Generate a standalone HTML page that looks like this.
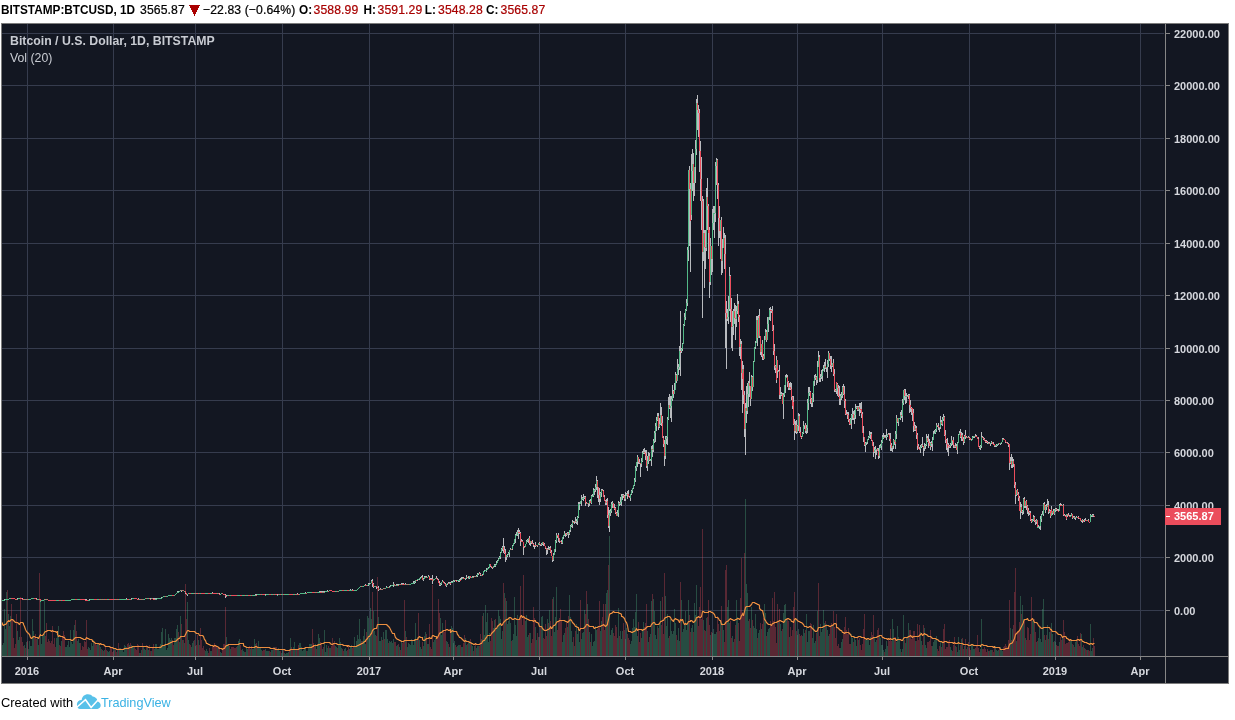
<!DOCTYPE html>
<html lang="en"><head><meta charset="utf-8"><title>BTCUSD chart</title>
<style>
html,body{margin:0;padding:0;background:#fff;}
body{width:1235px;height:720px;position:relative;overflow:hidden;font-family:"Liberation Sans",Arial,sans-serif;}
.h{-webkit-text-stroke:0.22px currentColor;letter-spacing:0.1px;position:absolute;top:2px;transform:scaleY(1.06);transform-origin:0 11.8px;height:16px;line-height:16px;font-size:12.2px;color:#000;white-space:nowrap;}
.h b{font-weight:bold;font-size:11.8px}
.hb{position:absolute;top:2px;transform:scaleY(1.1);transform-origin:0 11.8px;height:16px;line-height:16px;font-size:11.8px;font-weight:bold;color:#000;white-space:nowrap;}
.r{color:#a80000}
.lg{position:absolute;left:10px;white-space:nowrap;color:#c8cbd2;font-size:12.3px;line-height:16px;height:16px}
.ft{position:absolute;top:694px;height:18px;line-height:18px;font-size:12.7px;white-space:nowrap}
</style></head><body>
<svg width="1235" height="720" viewBox="0 0 1235 720" style="position:absolute;left:0;top:0;will-change:transform" shape-rendering="crispEdges">
<rect x="1.5" y="23.5" width="1227" height="660" fill="#131722" stroke="#7c7c7c" stroke-width="1"/>
<path stroke="#363c4e" stroke-width="1" fill="none" d="M2 610.5H1164M2 557.5H1164M2 505.5H1164M2 452.5H1164M2 400.5H1164M2 348.5H1164M2 295.5H1164M2 243.5H1164M2 190.5H1164M2 138.5H1164M2 85.5H1164M2 33.5H1164"/>
<path stroke="#363c4e" stroke-width="1" fill="none" d="M27.5 24V656M113.5 24V656M195.5 24V656M282.5 24V656M369.5 24V656M453.5 24V656M539.5 24V656M625.5 24V656M712.5 24V656M797.5 24V656M882.5 24V656M969.5 24V656M1055.5 24V656M1140.5 24V656"/>
<path stroke="#53b987" stroke-opacity="0.33" stroke-width="1" fill="none" d="M2.5 645V656M3.5 643V656M4.5 609V656M5.5 629V656M6.5 592V656M8.5 614V656M9.5 626V656M10.5 616V656M17.5 631V656M18.5 640V656M19.5 637V656M24.5 645V656M26.5 642V656M28.5 649V656M29.5 641V656M30.5 646V656M31.5 646V656M32.5 619V656M33.5 631V656M37.5 637V656M38.5 645V656M40.5 600V656M41.5 644V656M42.5 636V656M43.5 636V656M44.5 600V656M56.5 638V656M57.5 636V656M58.5 626V656M61.5 641V656M65.5 647V656M66.5 647V656M67.5 645V656M68.5 641V656M69.5 647V656M70.5 630V656M71.5 642V656M72.5 644V656M73.5 630V656M74.5 625V656M77.5 641V656M78.5 639V656M79.5 643V656M88.5 647V656M89.5 648V656M90.5 650V656M91.5 643V656M92.5 646V656M93.5 640V656M97.5 644V656M98.5 645V656M100.5 647V656M102.5 650V656M104.5 650V656M107.5 651V656M108.5 652V656M109.5 651V656M114.5 649V656M117.5 650V656M119.5 648V656M120.5 648V656M121.5 650V656M122.5 649V656M123.5 652V656M124.5 645V656M125.5 646V656M126.5 647V656M129.5 645V656M131.5 645V656M132.5 646V656M133.5 646V656M139.5 653V656M141.5 650V656M143.5 646V656M144.5 649V656M145.5 650V656M147.5 647V656M148.5 650V656M151.5 651V656M154.5 649V656M155.5 644V656M156.5 644V656M157.5 649V656M158.5 649V656M159.5 646V656M160.5 644V656M161.5 632V656M162.5 628V656M163.5 646V656M164.5 646V656M165.5 629V656M166.5 650V656M167.5 648V656M168.5 634V656M169.5 638V656M170.5 640V656M171.5 638V656M174.5 638V656M175.5 638V656M176.5 629V656M177.5 625V656M179.5 642V656M180.5 616V656M182.5 640V656M184.5 643V656M187.5 602V656M188.5 640V656M191.5 647V656M192.5 643V656M193.5 641V656M195.5 646V656M198.5 640V656M205.5 651V656M206.5 649V656M207.5 651V656M210.5 651V656M211.5 651V656M217.5 648V656M220.5 652V656M221.5 653V656M226.5 637V656M227.5 645V656M228.5 644V656M230.5 649V656M237.5 646V656M238.5 641V656M239.5 639V656M242.5 649V656M243.5 651V656M244.5 652V656M246.5 648V656M247.5 649V656M250.5 649V656M252.5 649V656M253.5 649V656M254.5 639V656M255.5 644V656M257.5 648V656M258.5 641V656M259.5 647V656M260.5 648V656M261.5 650V656M265.5 649V656M266.5 651V656M267.5 651V656M268.5 651V656M271.5 650V656M272.5 650V656M274.5 647V656M277.5 650V656M278.5 648V656M279.5 651V656M281.5 653V656M282.5 649V656M284.5 653V656M285.5 654V656M286.5 653V656M287.5 653V656M288.5 652V656M290.5 638V656M293.5 647V656M294.5 642V656M296.5 649V656M299.5 643V656M300.5 643V656M301.5 647V656M302.5 651V656M303.5 650V656M304.5 649V656M305.5 648V656M307.5 651V656M308.5 648V656M309.5 644V656M310.5 644V656M311.5 644V656M315.5 644V656M317.5 644V656M318.5 634V656M319.5 638V656M322.5 649V656M324.5 630V656M325.5 652V656M326.5 645V656M327.5 648V656M329.5 648V656M330.5 648V656M335.5 646V656M336.5 647V656M338.5 645V656M339.5 638V656M340.5 642V656M341.5 648V656M344.5 649V656M345.5 648V656M346.5 651V656M349.5 649V656M350.5 646V656M351.5 645V656M354.5 637V656M355.5 646V656M356.5 641V656M357.5 635V656M358.5 639V656M359.5 619V656M360.5 639V656M362.5 641V656M363.5 636V656M364.5 629V656M365.5 644V656M367.5 616V656M368.5 618V656M369.5 638V656M370.5 608V656M371.5 619V656M373.5 611V656M374.5 631V656M375.5 635V656M378.5 617V656M379.5 641V656M380.5 641V656M381.5 637V656M383.5 632V656M385.5 630V656M386.5 630V656M387.5 639V656M389.5 641V656M390.5 642V656M391.5 641V656M392.5 643V656M393.5 639V656M396.5 646V656M397.5 645V656M399.5 647V656M401.5 642V656M405.5 631V656M407.5 647V656M408.5 643V656M409.5 644V656M410.5 645V656M411.5 639V656M412.5 640V656M413.5 645V656M414.5 639V656M415.5 623V656M417.5 637V656M419.5 640V656M420.5 647V656M421.5 649V656M423.5 646V656M424.5 636V656M425.5 632V656M427.5 644V656M428.5 644V656M433.5 642V656M434.5 640V656M435.5 638V656M440.5 618V656M441.5 635V656M442.5 623V656M446.5 641V656M447.5 642V656M449.5 647V656M451.5 626V656M452.5 628V656M453.5 643V656M454.5 641V656M457.5 646V656M458.5 645V656M459.5 645V656M461.5 647V656M462.5 647V656M465.5 638V656M466.5 645V656M468.5 643V656M469.5 641V656M471.5 642V656M472.5 646V656M474.5 646V656M476.5 648V656M477.5 646V656M478.5 646V656M481.5 639V656M483.5 613V656M484.5 635V656M485.5 605V656M486.5 622V656M487.5 613V656M488.5 642V656M489.5 633V656M493.5 628V656M494.5 620V656M496.5 629V656M497.5 625V656M498.5 610V656M499.5 616V656M500.5 619V656M501.5 639V656M502.5 631V656M504.5 593V656M506.5 601V656M507.5 624V656M508.5 621V656M509.5 618V656M510.5 623V656M512.5 640V656M513.5 634V656M514.5 597V656M515.5 625V656M516.5 636V656M517.5 615V656M525.5 621V656M526.5 615V656M527.5 637V656M528.5 635V656M530.5 633V656M535.5 627V656M536.5 640V656M538.5 637V656M541.5 617V656M542.5 616V656M547.5 619V656M549.5 610V656M553.5 597V656M554.5 632V656M555.5 617V656M556.5 587V656M562.5 642V656M563.5 635V656M564.5 633V656M567.5 627V656M569.5 595V656M570.5 617V656M571.5 631V656M572.5 642V656M574.5 646V656M576.5 624V656M577.5 634V656M578.5 628V656M579.5 642V656M581.5 639V656M582.5 633V656M583.5 632V656M584.5 610V656M587.5 604V656M589.5 632V656M591.5 634V656M592.5 646V656M593.5 642V656M594.5 641V656M595.5 626V656M596.5 630V656M600.5 631V656M601.5 621V656M606.5 593V656M607.5 590V656M609.5 536V656M610.5 635V656M611.5 630V656M612.5 628V656M617.5 638V656M618.5 608V656M620.5 631V656M621.5 639V656M622.5 631V656M625.5 639V656M626.5 628V656M630.5 644V656M631.5 641V656M632.5 628V656M633.5 619V656M634.5 627V656M635.5 612V656M636.5 594V656M637.5 636V656M641.5 638V656M642.5 631V656M643.5 622V656M647.5 631V656M648.5 642V656M650.5 634V656M651.5 601V656M653.5 599V656M654.5 611V656M655.5 635V656M656.5 639V656M657.5 626V656M659.5 624V656M660.5 601V656M665.5 596V656M666.5 626V656M667.5 614V656M668.5 638V656M670.5 619V656M671.5 631V656M672.5 634V656M673.5 631V656M674.5 609V656M675.5 623V656M677.5 640V656M678.5 628V656M679.5 641V656M681.5 600V656M682.5 632V656M683.5 629V656M684.5 625V656M685.5 611V656M686.5 630V656M687.5 623V656M688.5 600V656M691.5 628V656M692.5 625V656M694.5 603V656M695.5 615V656M696.5 585V656M703.5 620V656M706.5 618V656M710.5 635V656M712.5 633V656M713.5 629V656M714.5 634V656M715.5 634V656M716.5 632V656M720.5 620V656M722.5 623V656M723.5 630V656M727.5 607V656M728.5 600V656M729.5 623V656M732.5 636V656M733.5 642V656M736.5 600V656M737.5 617V656M745.5 499V656M746.5 584V656M747.5 593V656M748.5 621V656M751.5 607V656M753.5 626V656M754.5 628V656M755.5 614V656M756.5 629V656M758.5 633V656M759.5 630V656M761.5 629V656M764.5 604V656M765.5 613V656M767.5 632V656M768.5 629V656M769.5 628V656M778.5 621V656M780.5 624V656M781.5 631V656M783.5 613V656M784.5 605V656M785.5 604V656M786.5 618V656M789.5 637V656M795.5 618V656M797.5 635V656M798.5 629V656M802.5 636V656M803.5 629V656M804.5 633V656M806.5 614V656M807.5 642V656M808.5 631V656M809.5 631V656M812.5 638V656M813.5 625V656M814.5 643V656M815.5 641V656M817.5 611V656M820.5 624V656M821.5 632V656M822.5 629V656M823.5 610V656M824.5 623V656M826.5 624V656M827.5 630V656M828.5 636V656M832.5 625V656M840.5 648V656M841.5 642V656M842.5 639V656M851.5 634V656M852.5 638V656M854.5 636V656M855.5 640V656M856.5 646V656M858.5 640V656M865.5 640V656M866.5 639V656M867.5 639V656M868.5 640V656M869.5 645V656M870.5 637V656M874.5 638V656M875.5 642V656M876.5 640V656M879.5 636V656M880.5 638V656M881.5 645V656M882.5 645V656M883.5 650V656M885.5 649V656M886.5 641V656M887.5 646V656M892.5 619V656M893.5 629V656M896.5 642V656M897.5 626V656M898.5 637V656M899.5 639V656M900.5 649V656M902.5 649V656M903.5 615V656M905.5 643V656M906.5 638V656M908.5 623V656M915.5 641V656M920.5 632V656M921.5 641V656M924.5 628V656M925.5 645V656M926.5 648V656M932.5 646V656M933.5 642V656M934.5 640V656M935.5 640V656M936.5 636V656M940.5 641V656M942.5 643V656M950.5 647V656M951.5 650V656M955.5 646V656M957.5 652V656M958.5 637V656M959.5 650V656M961.5 639V656M964.5 646V656M967.5 647V656M971.5 645V656M972.5 645V656M973.5 649V656M974.5 649V656M980.5 649V656M981.5 619V656M988.5 651V656M990.5 650V656M991.5 650V656M995.5 646V656M996.5 650V656M997.5 651V656M998.5 650V656M1000.5 647V656M1001.5 649V656M1002.5 651V656M1010.5 628V656M1012.5 629V656M1016.5 641V656M1020.5 596V656M1022.5 605V656M1023.5 619V656M1025.5 638V656M1032.5 621V656M1033.5 619V656M1036.5 642V656M1038.5 638V656M1039.5 626V656M1040.5 639V656M1041.5 642V656M1042.5 609V656M1043.5 599V656M1045.5 640V656M1047.5 625V656M1049.5 632V656M1051.5 623V656M1052.5 634V656M1054.5 641V656M1055.5 642V656M1059.5 642V656M1062.5 636V656M1070.5 641V656M1071.5 640V656M1073.5 645V656M1075.5 642V656M1076.5 640V656M1081.5 634V656M1082.5 647V656M1084.5 648V656M1087.5 650V656M1090.5 624V656M1091.5 651V656M1092.5 648V656"/>
<path stroke="#eb4d5c" stroke-opacity="0.33" stroke-width="1" fill="none" d="M7.5 590V656M11.5 604V656M12.5 619V656M13.5 638V656M14.5 648V656M15.5 644V656M16.5 614V656M20.5 597V656M21.5 637V656M22.5 642V656M23.5 646V656M25.5 648V656M27.5 641V656M34.5 638V656M35.5 634V656M36.5 639V656M39.5 573V656M45.5 636V656M46.5 623V656M47.5 642V656M48.5 639V656M49.5 641V656M50.5 643V656M51.5 641V656M52.5 626V656M53.5 644V656M54.5 638V656M55.5 647V656M59.5 645V656M60.5 646V656M62.5 637V656M63.5 631V656M64.5 635V656M75.5 620V656M76.5 631V656M80.5 643V656M81.5 650V656M82.5 646V656M83.5 647V656M84.5 641V656M85.5 642V656M86.5 620V656M87.5 649V656M94.5 644V656M95.5 644V656M96.5 645V656M99.5 645V656M101.5 649V656M103.5 651V656M105.5 646V656M106.5 650V656M110.5 648V656M111.5 647V656M112.5 652V656M113.5 651V656M115.5 650V656M116.5 652V656M118.5 643V656M127.5 644V656M128.5 643V656M130.5 643V656M134.5 646V656M135.5 649V656M136.5 650V656M137.5 644V656M138.5 645V656M140.5 653V656M142.5 643V656M146.5 645V656M149.5 645V656M150.5 651V656M152.5 648V656M153.5 644V656M172.5 640V656M173.5 645V656M178.5 632V656M181.5 624V656M183.5 640V656M185.5 584V656M186.5 619V656M189.5 644V656M190.5 645V656M194.5 640V656M196.5 645V656M197.5 635V656M199.5 645V656M200.5 628V656M201.5 640V656M202.5 648V656M203.5 646V656M204.5 650V656M208.5 653V656M209.5 648V656M212.5 647V656M213.5 646V656M214.5 643V656M215.5 645V656M216.5 647V656M218.5 648V656M219.5 647V656M222.5 650V656M223.5 644V656M224.5 644V656M225.5 607V656M229.5 646V656M231.5 647V656M232.5 647V656M233.5 647V656M234.5 648V656M235.5 648V656M236.5 647V656M240.5 645V656M241.5 650V656M245.5 652V656M248.5 647V656M249.5 646V656M251.5 646V656M256.5 643V656M262.5 651V656M263.5 650V656M264.5 650V656M269.5 651V656M270.5 652V656M273.5 647V656M275.5 647V656M276.5 647V656M280.5 651V656M283.5 650V656M289.5 650V656M291.5 647V656M292.5 650V656M295.5 650V656M297.5 650V656M298.5 645V656M306.5 651V656M312.5 629V656M313.5 643V656M314.5 645V656M316.5 649V656M320.5 642V656M321.5 645V656M323.5 647V656M328.5 646V656M331.5 646V656M332.5 638V656M333.5 643V656M334.5 641V656M337.5 648V656M342.5 649V656M343.5 651V656M347.5 650V656M348.5 646V656M352.5 648V656M353.5 646V656M361.5 641V656M366.5 632V656M372.5 592V656M376.5 636V656M377.5 577V656M382.5 640V656M384.5 639V656M388.5 643V656M394.5 642V656M395.5 642V656M398.5 644V656M400.5 650V656M402.5 643V656M403.5 642V656M404.5 600V656M406.5 637V656M416.5 640V656M418.5 613V656M422.5 642V656M426.5 634V656M429.5 624V656M430.5 647V656M431.5 649V656M432.5 585V656M436.5 639V656M437.5 636V656M438.5 599V656M439.5 613V656M443.5 630V656M444.5 632V656M445.5 620V656M448.5 644V656M450.5 633V656M455.5 645V656M456.5 647V656M460.5 645V656M463.5 643V656M464.5 635V656M467.5 644V656M470.5 639V656M473.5 651V656M475.5 644V656M479.5 646V656M480.5 634V656M482.5 616V656M490.5 641V656M491.5 618V656M492.5 621V656M495.5 619V656M503.5 583V656M505.5 598V656M511.5 641V656M518.5 619V656M519.5 618V656M520.5 586V656M521.5 616V656M522.5 625V656M523.5 575V656M524.5 617V656M529.5 633V656M531.5 643V656M532.5 639V656M533.5 607V656M534.5 618V656M537.5 633V656M539.5 637V656M540.5 626V656M543.5 638V656M544.5 639V656M545.5 624V656M546.5 636V656M548.5 623V656M550.5 621V656M551.5 636V656M552.5 599V656M557.5 630V656M558.5 622V656M559.5 618V656M560.5 609V656M561.5 620V656M565.5 628V656M566.5 623V656M568.5 616V656M573.5 637V656M575.5 631V656M580.5 600V656M585.5 614V656M586.5 591V656M588.5 619V656M590.5 642V656M597.5 629V656M598.5 628V656M599.5 601V656M602.5 617V656M603.5 604V656M604.5 630V656M605.5 604V656M608.5 565V656M613.5 633V656M614.5 636V656M615.5 625V656M616.5 627V656M619.5 636V656M623.5 623V656M624.5 630V656M627.5 634V656M628.5 638V656M629.5 640V656M638.5 622V656M639.5 642V656M640.5 633V656M644.5 627V656M645.5 623V656M646.5 604V656M649.5 637V656M652.5 594V656M658.5 628V656M661.5 625V656M662.5 597V656M663.5 634V656M664.5 573V656M669.5 636V656M676.5 635V656M680.5 582V656M689.5 615V656M690.5 632V656M693.5 632V656M697.5 618V656M698.5 626V656M699.5 607V656M700.5 587V656M701.5 619V656M702.5 529V656M704.5 630V656M705.5 631V656M707.5 617V656M708.5 600V656M709.5 625V656M711.5 632V656M717.5 616V656M718.5 624V656M719.5 631V656M721.5 606V656M724.5 642V656M725.5 570V656M726.5 565V656M730.5 621V656M731.5 638V656M734.5 639V656M735.5 625V656M738.5 623V656M739.5 641V656M740.5 598V656M741.5 558V656M742.5 612V656M743.5 613V656M744.5 553V656M749.5 619V656M750.5 628V656M752.5 620V656M757.5 638V656M760.5 623V656M762.5 624V656M763.5 618V656M766.5 636V656M770.5 621V656M771.5 626V656M772.5 598V656M773.5 621V656M774.5 592V656M775.5 627V656M776.5 643V656M777.5 604V656M779.5 609V656M782.5 629V656M787.5 619V656M788.5 621V656M790.5 627V656M791.5 636V656M792.5 630V656M793.5 607V656M794.5 592V656M796.5 631V656M799.5 634V656M800.5 636V656M801.5 635V656M805.5 630V656M810.5 623V656M811.5 624V656M816.5 633V656M818.5 583V656M819.5 636V656M825.5 621V656M829.5 634V656M830.5 627V656M831.5 623V656M833.5 611V656M834.5 627V656M835.5 638V656M836.5 614V656M837.5 646V656M838.5 644V656M839.5 648V656M843.5 633V656M844.5 627V656M845.5 617V656M846.5 630V656M847.5 634V656M848.5 628V656M849.5 644V656M850.5 644V656M853.5 642V656M857.5 637V656M859.5 638V656M860.5 645V656M861.5 650V656M862.5 644V656M863.5 629V656M864.5 614V656M871.5 632V656M872.5 635V656M873.5 615V656M877.5 630V656M878.5 628V656M884.5 652V656M888.5 639V656M889.5 641V656M890.5 629V656M891.5 641V656M894.5 637V656M895.5 637V656M901.5 652V656M904.5 640V656M907.5 638V656M909.5 630V656M910.5 630V656M911.5 639V656M912.5 635V656M913.5 631V656M914.5 631V656M916.5 641V656M917.5 624V656M918.5 640V656M919.5 625V656M922.5 645V656M923.5 625V656M927.5 642V656M928.5 642V656M929.5 641V656M930.5 630V656M931.5 646V656M937.5 649V656M938.5 651V656M939.5 646V656M941.5 647V656M943.5 629V656M944.5 624V656M945.5 649V656M946.5 647V656M947.5 647V656M948.5 641V656M949.5 640V656M952.5 651V656M953.5 645V656M954.5 637V656M956.5 647V656M960.5 645V656M962.5 638V656M963.5 649V656M965.5 639V656M966.5 649V656M968.5 642V656M969.5 648V656M970.5 650V656M975.5 648V656M976.5 645V656M977.5 635V656M978.5 648V656M979.5 652V656M982.5 649V656M983.5 649V656M984.5 647V656M985.5 649V656M986.5 652V656M987.5 649V656M989.5 651V656M992.5 650V656M993.5 652V656M994.5 647V656M999.5 647V656M1003.5 647V656M1004.5 646V656M1005.5 644V656M1006.5 646V656M1007.5 647V656M1008.5 640V656M1009.5 600V656M1011.5 640V656M1013.5 625V656M1014.5 592V656M1015.5 568V656M1017.5 631V656M1018.5 631V656M1019.5 622V656M1021.5 614V656M1024.5 620V656M1026.5 640V656M1027.5 627V656M1028.5 628V656M1029.5 640V656M1030.5 634V656M1031.5 597V656M1034.5 619V656M1035.5 632V656M1037.5 641V656M1044.5 635V656M1046.5 635V656M1048.5 639V656M1050.5 629V656M1053.5 642V656M1056.5 645V656M1057.5 646V656M1058.5 646V656M1060.5 637V656M1061.5 640V656M1063.5 620V656M1064.5 632V656M1065.5 644V656M1066.5 643V656M1067.5 643V656M1068.5 642V656M1069.5 639V656M1072.5 644V656M1074.5 647V656M1077.5 636V656M1078.5 644V656M1079.5 646V656M1080.5 633V656M1083.5 645V656M1085.5 649V656M1086.5 650V656M1088.5 650V656M1089.5 651V656M1093.5 638V656M1094.5 646V656"/>
<polyline shape-rendering="geometricPrecision" fill="none" stroke="#ec8e40" stroke-width="1.15" stroke-linejoin="round" points="2.5,622.5 2.5,624.5 3.5,625.5 4.5,624.5 5.5,624.5 6.5,623.5 7.5,621.5 8.5,621.5 8.5,620.5 9.5,621.5 10.5,620.5 11.5,619.5 12.5,619.5 13.5,620.5 14.5,621.5 15.5,622.5 16.5,622.5 17.5,622.5 18.5,623.5 19.5,624.5 20.5,622.5 21.5,622.5 22.5,622.5 23.5,623.5 23.5,624.5 24.5,626.5 25.5,629.5 26.5,631.5 27.5,632.5 28.5,633.5 29.5,634.5 30.5,637.5 31.5,638.5 32.5,637.5 33.5,636.5 34.5,636.5 35.5,637.5 36.5,637.5 37.5,637.5 38.5,638.5 39.5,636.5 40.5,634.5 40.5,635.5 41.5,635.5 42.5,635.5 43.5,634.5 44.5,632.5 45.5,631.5 46.5,631.5 47.5,630.5 48.5,630.5 49.5,630.5 50.5,630.5 51.5,631.5 52.5,630.5 53.5,631.5 54.5,631.5 55.5,631.5 56.5,632.5 57.5,631.5 57.5,634.5 58.5,636.5 59.5,635.5 60.5,636.5 61.5,636.5 62.5,636.5 63.5,637.5 64.5,637.5 65.5,639.5 66.5,639.5 67.5,639.5 68.5,639.5 69.5,639.5 70.5,639.5 71.5,640.5 72.5,640.5 73.5,639.5 74.5,638.5 74.5,638.5 75.5,637.5 76.5,637.5 77.5,637.5 78.5,637.5 79.5,637.5 80.5,637.5 81.5,638.5 82.5,638.5 83.5,639.5 84.5,639.5 85.5,639.5 86.5,637.5 87.5,638.5 88.5,638.5 89.5,639.5 90.5,639.5 91.5,639.5 92.5,640.5 92.5,641.5 93.5,641.5 94.5,642.5 95.5,643.5 96.5,643.5 97.5,643.5 98.5,643.5 99.5,644.5 100.5,643.5 101.5,644.5 102.5,644.5 103.5,644.5 104.5,645.5 105.5,646.5 106.5,646.5 107.5,646.5 108.5,646.5 109.5,646.5 109.5,646.5 110.5,647.5 111.5,647.5 112.5,647.5 113.5,648.5 114.5,648.5 115.5,648.5 116.5,649.5 117.5,649.5 117.5,649.5 118.5,649.5 119.5,649.5 120.5,649.5 121.5,649.5 122.5,649.5 123.5,649.5 123.5,649.5 124.5,648.5 125.5,648.5 126.5,648.5 127.5,648.5 128.5,648.5 129.5,647.5 129.5,647.5 130.5,647.5 131.5,647.5 132.5,646.5 133.5,646.5 134.5,646.5 135.5,646.5 136.5,646.5 136.5,646.5 137.5,646.5 138.5,646.5 139.5,646.5 140.5,646.5 141.5,646.5 142.5,646.5 142.5,646.5 143.5,646.5 144.5,646.5 145.5,646.5 146.5,646.5 147.5,646.5 148.5,647.5 148.5,647.5 149.5,647.5 150.5,647.5 151.5,647.5 152.5,647.5 153.5,647.5 154.5,647.5 154.5,647.5 155.5,647.5 156.5,647.5 157.5,647.5 158.5,647.5 159.5,647.5 160.5,647.5 160.5,647.5 161.5,646.5 162.5,645.5 163.5,645.5 164.5,645.5 165.5,644.5 166.5,644.5 167.5,644.5 168.5,643.5 169.5,643.5 170.5,642.5 171.5,642.5 172.5,641.5 173.5,641.5 174.5,641.5 175.5,641.5 176.5,640.5 177.5,639.5 178.5,638.5 179.5,638.5 180.5,636.5 181.5,636.5 182.5,636.5 183.5,636.5 184.5,636.5 185.5,634.5 186.5,632.5 187.5,630.5 188.5,630.5 188.5,630.5 189.5,631.5 190.5,631.5 191.5,631.5 192.5,631.5 193.5,631.5 194.5,631.5 195.5,632.5 196.5,633.5 197.5,633.5 198.5,633.5 199.5,635.5 200.5,635.5 201.5,635.5 202.5,635.5 203.5,636.5 204.5,639.5 205.5,640.5 206.5,643.5 207.5,643.5 208.5,644.5 208.5,644.5 209.5,644.5 210.5,645.5 211.5,645.5 212.5,645.5 213.5,646.5 214.5,645.5 215.5,645.5 216.5,646.5 217.5,646.5 218.5,647.5 219.5,648.5 220.5,648.5 221.5,648.5 222.5,649.5 223.5,648.5 224.5,648.5 225.5,646.5 226.5,645.5 226.5,645.5 227.5,645.5 228.5,644.5 229.5,644.5 230.5,644.5 231.5,644.5 232.5,644.5 233.5,644.5 234.5,644.5 235.5,644.5 236.5,644.5 237.5,644.5 238.5,644.5 239.5,643.5 240.5,643.5 241.5,643.5 242.5,643.5 243.5,643.5 243.5,645.5 244.5,646.5 245.5,646.5 246.5,647.5 247.5,647.5 248.5,647.5 249.5,647.5 250.5,647.5 251.5,647.5 252.5,647.5 253.5,647.5 254.5,647.5 255.5,646.5 256.5,646.5 257.5,647.5 258.5,647.5 259.5,647.5 260.5,647.5 260.5,647.5 261.5,647.5 262.5,647.5 263.5,647.5 264.5,647.5 265.5,647.5 266.5,647.5 267.5,647.5 268.5,647.5 269.5,647.5 270.5,648.5 271.5,648.5 272.5,648.5 273.5,648.5 274.5,648.5 275.5,649.5 276.5,649.5 277.5,649.5 278.5,649.5 278.5,649.5 279.5,649.5 280.5,649.5 281.5,649.5 282.5,649.5 283.5,649.5 284.5,649.5 285.5,650.5 286.5,650.5 287.5,650.5 288.5,650.5 289.5,650.5 290.5,649.5 291.5,649.5 292.5,649.5 293.5,649.5 294.5,649.5 295.5,649.5 295.5,649.5 296.5,649.5 297.5,649.5 298.5,649.5 299.5,648.5 300.5,648.5 301.5,648.5 302.5,648.5 303.5,648.5 304.5,648.5 305.5,647.5 306.5,647.5 307.5,647.5 308.5,647.5 309.5,647.5 310.5,647.5 311.5,647.5 312.5,646.5 313.5,646.5 313.5,645.5 314.5,645.5 315.5,645.5 316.5,645.5 317.5,645.5 318.5,644.5 319.5,644.5 320.5,644.5 321.5,643.5 322.5,643.5 323.5,643.5 324.5,642.5 325.5,642.5 326.5,642.5 327.5,642.5 328.5,642.5 329.5,642.5 330.5,643.5 330.5,643.5 331.5,644.5 332.5,644.5 333.5,643.5 334.5,643.5 335.5,643.5 336.5,643.5 337.5,644.5 338.5,644.5 339.5,644.5 340.5,644.5 341.5,644.5 342.5,644.5 343.5,645.5 344.5,645.5 345.5,645.5 346.5,645.5 347.5,646.5 347.5,645.5 348.5,645.5 349.5,646.5 350.5,646.5 351.5,646.5 352.5,646.5 353.5,646.5 354.5,646.5 355.5,646.5 356.5,646.5 357.5,645.5 358.5,645.5 359.5,644.5 360.5,644.5 361.5,643.5 362.5,643.5 363.5,642.5 364.5,641.5 365.5,641.5 365.5,640.5 366.5,639.5 367.5,638.5 368.5,636.5 369.5,636.5 370.5,634.5 371.5,633.5 372.5,630.5 373.5,629.5 374.5,628.5 375.5,628.5 376.5,628.5 377.5,624.5 378.5,624.5 379.5,624.5 380.5,624.5 380.5,624.5 381.5,624.5 382.5,624.5 383.5,624.5 384.5,624.5 385.5,624.5 386.5,624.5 387.5,625.5 388.5,626.5 389.5,627.5 390.5,629.5 391.5,631.5 392.5,633.5 393.5,633.5 394.5,633.5 394.5,634.5 395.5,637.5 396.5,638.5 397.5,639.5 398.5,639.5 399.5,640.5 400.5,640.5 401.5,641.5 402.5,641.5 403.5,641.5 404.5,640.5 405.5,640.5 406.5,640.5 407.5,640.5 408.5,640.5 408.5,640.5 409.5,640.5 410.5,640.5 411.5,640.5 412.5,640.5 413.5,640.5 414.5,640.5 415.5,639.5 416.5,639.5 417.5,639.5 418.5,637.5 419.5,636.5 420.5,637.5 421.5,637.5 422.5,637.5 422.5,639.5 423.5,640.5 424.5,640.5 425.5,639.5 426.5,638.5 427.5,638.5 428.5,638.5 429.5,637.5 430.5,638.5 431.5,638.5 432.5,635.5 433.5,635.5 434.5,636.5 435.5,636.5 436.5,636.5 436.5,638.5 437.5,637.5 438.5,635.5 439.5,633.5 440.5,632.5 441.5,632.5 442.5,631.5 443.5,630.5 444.5,630.5 445.5,630.5 446.5,629.5 447.5,629.5 448.5,630.5 449.5,630.5 450.5,629.5 450.5,632.5 451.5,631.5 452.5,630.5 453.5,631.5 454.5,631.5 455.5,631.5 456.5,631.5 457.5,634.5 458.5,635.5 459.5,637.5 460.5,637.5 461.5,638.5 462.5,639.5 463.5,640.5 464.5,641.5 465.5,640.5 466.5,641.5 466.5,641.5 467.5,641.5 468.5,641.5 469.5,642.5 470.5,642.5 471.5,643.5 472.5,643.5 473.5,644.5 474.5,644.5 475.5,643.5 476.5,644.5 477.5,644.5 478.5,644.5 479.5,644.5 480.5,643.5 481.5,643.5 482.5,641.5 483.5,640.5 483.5,640.5 484.5,640.5 485.5,638.5 486.5,637.5 487.5,635.5 488.5,635.5 489.5,635.5 490.5,635.5 491.5,633.5 492.5,632.5 493.5,631.5 494.5,630.5 495.5,628.5 496.5,628.5 497.5,626.5 498.5,625.5 499.5,624.5 500.5,623.5 500.5,623.5 501.5,625.5 502.5,624.5 503.5,622.5 504.5,621.5 505.5,620.5 506.5,619.5 507.5,619.5 508.5,618.5 509.5,617.5 510.5,617.5 511.5,618.5 512.5,619.5 513.5,619.5 514.5,618.5 515.5,618.5 516.5,619.5 517.5,619.5 518.5,619.5 518.5,619.5 519.5,619.5 520.5,616.5 521.5,615.5 522.5,617.5 523.5,616.5 524.5,617.5 525.5,618.5 526.5,618.5 527.5,619.5 528.5,619.5 529.5,620.5 530.5,620.5 531.5,620.5 532.5,620.5 533.5,621.5 534.5,620.5 535.5,620.5 535.5,621.5 536.5,622.5 537.5,622.5 538.5,623.5 539.5,626.5 540.5,626.5 541.5,626.5 542.5,628.5 543.5,629.5 544.5,630.5 545.5,630.5 546.5,630.5 547.5,629.5 548.5,629.5 549.5,628.5 550.5,627.5 550.5,626.5 551.5,628.5 552.5,627.5 553.5,625.5 554.5,625.5 555.5,624.5 556.5,622.5 557.5,621.5 558.5,621.5 559.5,620.5 560.5,620.5 561.5,620.5 562.5,620.5 563.5,620.5 564.5,620.5 564.5,620.5 565.5,621.5 566.5,621.5 567.5,622.5 568.5,621.5 569.5,620.5 570.5,619.5 571.5,620.5 572.5,622.5 573.5,623.5 574.5,624.5 575.5,626.5 576.5,626.5 577.5,627.5 578.5,627.5 578.5,629.5 579.5,630.5 580.5,628.5 581.5,628.5 582.5,628.5 583.5,628.5 584.5,627.5 585.5,626.5 586.5,624.5 587.5,624.5 588.5,625.5 589.5,626.5 590.5,626.5 591.5,626.5 592.5,626.5 593.5,626.5 593.5,627.5 594.5,628.5 595.5,627.5 596.5,627.5 597.5,627.5 598.5,626.5 599.5,626.5 600.5,626.5 601.5,625.5 602.5,625.5 603.5,624.5 604.5,625.5 605.5,626.5 606.5,625.5 607.5,624.5 607.5,623.5 608.5,619.5 609.5,614.5 610.5,613.5 611.5,613.5 612.5,612.5 613.5,611.5 614.5,612.5 615.5,612.5 616.5,612.5 617.5,612.5 618.5,612.5 619.5,613.5 620.5,613.5 621.5,614.5 621.5,616.5 622.5,616.5 623.5,617.5 624.5,618.5 625.5,621.5 626.5,622.5 627.5,625.5 628.5,631.5 629.5,631.5 630.5,631.5 631.5,632.5 632.5,632.5 633.5,631.5 634.5,631.5 635.5,630.5 636.5,628.5 637.5,630.5 638.5,629.5 638.5,629.5 639.5,629.5 640.5,629.5 641.5,629.5 642.5,630.5 643.5,629.5 644.5,629.5 645.5,628.5 646.5,627.5 647.5,626.5 648.5,626.5 649.5,626.5 650.5,626.5 651.5,624.5 652.5,623.5 653.5,622.5 654.5,622.5 655.5,624.5 656.5,624.5 656.5,624.5 657.5,624.5 658.5,624.5 659.5,623.5 660.5,621.5 661.5,621.5 662.5,620.5 663.5,620.5 664.5,618.5 665.5,617.5 666.5,617.5 667.5,616.5 668.5,616.5 669.5,616.5 670.5,617.5 671.5,619.5 672.5,620.5 673.5,621.5 673.5,620.5 674.5,619.5 675.5,618.5 676.5,619.5 677.5,619.5 678.5,620.5 679.5,622.5 680.5,619.5 681.5,620.5 682.5,619.5 683.5,622.5 684.5,624.5 685.5,623.5 686.5,624.5 687.5,623.5 688.5,621.5 689.5,621.5 690.5,621.5 690.5,620.5 691.5,620.5 692.5,621.5 693.5,622.5 694.5,621.5 695.5,620.5 696.5,617.5 697.5,617.5 698.5,616.5 699.5,617.5 700.5,617.5 701.5,616.5 702.5,611.5 703.5,611.5 704.5,612.5 705.5,612.5 706.5,612.5 707.5,612.5 708.5,612.5 708.5,611.5 709.5,611.5 710.5,611.5 711.5,612.5 712.5,612.5 713.5,613.5 714.5,614.5 715.5,617.5 716.5,617.5 717.5,617.5 718.5,618.5 719.5,620.5 720.5,620.5 721.5,624.5 722.5,624.5 723.5,624.5 724.5,624.5 725.5,622.5 725.5,623.5 726.5,621.5 727.5,621.5 728.5,620.5 729.5,619.5 730.5,618.5 731.5,619.5 732.5,619.5 733.5,620.5 734.5,620.5 735.5,619.5 736.5,619.5 737.5,618.5 738.5,618.5 739.5,619.5 740.5,618.5 741.5,615.5 742.5,614.5 742.5,613.5 743.5,615.5 744.5,611.5 745.5,607.5 746.5,606.5 747.5,606.5 748.5,606.5 749.5,606.5 750.5,605.5 751.5,604.5 752.5,602.5 753.5,602.5 754.5,602.5 755.5,603.5 756.5,603.5 757.5,604.5 758.5,604.5 759.5,605.5 759.5,608.5 760.5,609.5 761.5,610.5 762.5,610.5 763.5,614.5 764.5,619.5 765.5,620.5 766.5,622.5 767.5,623.5 768.5,624.5 769.5,624.5 770.5,624.5 771.5,625.5 772.5,623.5 773.5,623.5 774.5,622.5 775.5,622.5 776.5,622.5 776.5,622.5 777.5,621.5 778.5,621.5 779.5,620.5 780.5,620.5 781.5,621.5 782.5,621.5 783.5,622.5 784.5,621.5 785.5,619.5 786.5,619.5 787.5,618.5 788.5,618.5 789.5,619.5 790.5,619.5 791.5,621.5 792.5,621.5 793.5,622.5 793.5,622.5 794.5,619.5 795.5,618.5 796.5,619.5 797.5,620.5 798.5,621.5 799.5,621.5 800.5,622.5 801.5,622.5 802.5,623.5 803.5,624.5 804.5,626.5 805.5,626.5 806.5,626.5 807.5,627.5 808.5,627.5 808.5,627.5 809.5,626.5 810.5,626.5 811.5,627.5 812.5,628.5 813.5,629.5 814.5,630.5 815.5,631.5 816.5,631.5 817.5,630.5 818.5,627.5 819.5,627.5 820.5,627.5 821.5,627.5 822.5,627.5 822.5,627.5 823.5,626.5 824.5,626.5 825.5,625.5 826.5,625.5 827.5,625.5 828.5,625.5 829.5,626.5 830.5,626.5 831.5,625.5 832.5,625.5 833.5,624.5 834.5,623.5 835.5,623.5 836.5,624.5 836.5,627.5 837.5,627.5 838.5,628.5 839.5,629.5 840.5,630.5 841.5,630.5 842.5,632.5 843.5,632.5 844.5,633.5 845.5,632.5 846.5,632.5 847.5,632.5 848.5,632.5 849.5,633.5 850.5,634.5 850.5,634.5 851.5,636.5 852.5,636.5 853.5,636.5 854.5,637.5 855.5,637.5 856.5,637.5 857.5,637.5 858.5,636.5 859.5,636.5 860.5,636.5 861.5,637.5 862.5,637.5 863.5,637.5 864.5,637.5 864.5,638.5 865.5,638.5 866.5,639.5 867.5,638.5 868.5,638.5 869.5,639.5 870.5,639.5 871.5,638.5 872.5,638.5 873.5,637.5 874.5,637.5 875.5,637.5 876.5,637.5 877.5,636.5 878.5,636.5 878.5,636.5 879.5,635.5 880.5,635.5 881.5,635.5 882.5,637.5 883.5,637.5 884.5,638.5 885.5,638.5 886.5,638.5 887.5,639.5 888.5,638.5 889.5,639.5 890.5,638.5 891.5,639.5 892.5,639.5 893.5,638.5 894.5,638.5 895.5,638.5 895.5,639.5 896.5,640.5 897.5,639.5 898.5,639.5 899.5,639.5 900.5,639.5 901.5,640.5 902.5,640.5 903.5,638.5 904.5,637.5 905.5,637.5 906.5,637.5 907.5,637.5 908.5,636.5 909.5,636.5 910.5,635.5 911.5,636.5 912.5,637.5 913.5,636.5 913.5,636.5 914.5,636.5 915.5,636.5 916.5,636.5 917.5,636.5 918.5,636.5 919.5,635.5 920.5,634.5 921.5,633.5 922.5,635.5 923.5,634.5 924.5,633.5 925.5,634.5 926.5,634.5 927.5,635.5 928.5,636.5 929.5,636.5 930.5,636.5 930.5,636.5 931.5,637.5 932.5,638.5 933.5,638.5 934.5,638.5 935.5,638.5 936.5,639.5 937.5,639.5 938.5,640.5 939.5,641.5 940.5,641.5 941.5,641.5 942.5,642.5 943.5,642.5 944.5,641.5 945.5,641.5 946.5,641.5 947.5,642.5 947.5,642.5 948.5,642.5 949.5,642.5 950.5,642.5 951.5,642.5 952.5,642.5 953.5,643.5 954.5,642.5 955.5,643.5 956.5,643.5 957.5,643.5 958.5,642.5 959.5,643.5 960.5,643.5 961.5,643.5 962.5,643.5 963.5,644.5 964.5,644.5 965.5,644.5 965.5,644.5 966.5,644.5 967.5,644.5 968.5,645.5 969.5,645.5 970.5,645.5 971.5,644.5 972.5,644.5 973.5,645.5 974.5,645.5 975.5,645.5 976.5,645.5 977.5,645.5 978.5,645.5 979.5,645.5 980.5,645.5 980.5,646.5 981.5,644.5 982.5,644.5 983.5,645.5 984.5,645.5 985.5,645.5 986.5,645.5 987.5,646.5 988.5,646.5 989.5,646.5 990.5,646.5 991.5,646.5 992.5,646.5 993.5,647.5 994.5,646.5 994.5,647.5 995.5,647.5 996.5,647.5 997.5,647.5 998.5,647.5 999.5,647.5 1000.5,649.5 1001.5,649.5 1002.5,649.5 1003.5,649.5 1004.5,649.5 1005.5,648.5 1006.5,648.5 1007.5,648.5 1008.5,648.5 1008.5,647.5 1009.5,644.5 1010.5,643.5 1011.5,643.5 1012.5,642.5 1013.5,640.5 1014.5,638.5 1015.5,634.5 1016.5,633.5 1017.5,632.5 1018.5,631.5 1019.5,630.5 1020.5,628.5 1021.5,626.5 1022.5,624.5 1023.5,622.5 1023.5,621.5 1024.5,619.5 1025.5,619.5 1026.5,619.5 1027.5,618.5 1028.5,620.5 1029.5,620.5 1030.5,620.5 1031.5,619.5 1032.5,618.5 1033.5,620.5 1034.5,622.5 1035.5,622.5 1036.5,622.5 1037.5,623.5 1037.5,623.5 1038.5,625.5 1039.5,626.5 1040.5,627.5 1041.5,628.5 1042.5,628.5 1043.5,627.5 1044.5,627.5 1045.5,627.5 1046.5,627.5 1047.5,627.5 1048.5,627.5 1049.5,627.5 1050.5,629.5 1051.5,629.5 1051.5,630.5 1052.5,631.5 1053.5,631.5 1054.5,631.5 1055.5,631.5 1056.5,632.5 1057.5,633.5 1058.5,634.5 1059.5,634.5 1060.5,634.5 1061.5,635.5 1062.5,637.5 1063.5,636.5 1064.5,636.5 1065.5,636.5 1066.5,637.5 1066.5,638.5 1067.5,638.5 1068.5,639.5 1069.5,640.5 1070.5,639.5 1071.5,640.5 1072.5,640.5 1073.5,640.5 1074.5,640.5 1075.5,640.5 1076.5,640.5 1077.5,639.5 1078.5,639.5 1079.5,640.5 1080.5,639.5 1081.5,639.5 1082.5,641.5 1082.5,641.5 1083.5,641.5 1084.5,642.5 1085.5,642.5 1086.5,642.5 1087.5,643.5 1088.5,643.5 1089.5,644.5 1090.5,643.5 1091.5,643.5 1092.5,644.5 1093.5,643.5 1094.5,643.5"/>
<path stroke="#b9bbbf" stroke-width="1" fill="none" d="M2.5 600V601M3.5 600V601M4.5 599V600M5.5 599V600M6.5 599V600M7.5 599V600M8.5 599V600M8.5 599V600M9.5 598V599M10.5 598V599M11.5 598V599M12.5 598V599M13.5 598V599M14.5 598V599M15.5 599V600M16.5 599V600M17.5 598V599M18.5 598V599M19.5 598V599M20.5 598V599M21.5 598V599M22.5 598V599M23.5 599V600M23.5 599V600M24.5 599V600M25.5 599V600M26.5 599V600M27.5 599V600M28.5 599V600M29.5 599V600M30.5 599V600M31.5 598V599M32.5 598V599M33.5 598V599M34.5 598V599M35.5 598V599M36.5 598V599M37.5 599V600M38.5 599V600M39.5 599V600M40.5 599V601M40.5 601V602M41.5 600V601M42.5 600V601M43.5 600V601M44.5 599V600M45.5 599V600M46.5 599V600M47.5 599V600M48.5 600V601M49.5 600V601M50.5 600V601M51.5 600V601M52.5 600V601M53.5 600V601M54.5 600V601M55.5 600V601M56.5 600V601M57.5 600V601M57.5 600V601M58.5 600V601M59.5 600V601M60.5 600V601M61.5 600V601M62.5 600V601M63.5 600V601M64.5 600V601M65.5 600V601M66.5 600V601M67.5 600V601M68.5 600V601M69.5 600V601M70.5 600V601M71.5 599V600M72.5 599V600M73.5 599V600M74.5 599V600M74.5 599V600M75.5 599V600M76.5 599V600M77.5 599V600M78.5 599V600M79.5 599V600M80.5 599V600M81.5 599V600M82.5 599V600M83.5 599V600M84.5 599V600M85.5 599V600M86.5 599V600M87.5 600V601M88.5 600V601M89.5 599V600M90.5 599V600M91.5 599V600M92.5 599V600M92.5 599V600M93.5 599V600M94.5 599V600M95.5 599V600M96.5 599V600M97.5 599V600M98.5 599V600M99.5 599V600M100.5 599V600M101.5 599V600M102.5 599V600M103.5 599V600M104.5 599V600M105.5 599V600M106.5 599V600M107.5 599V600M108.5 599V600M109.5 599V600M109.5 599V600M110.5 599V600M111.5 599V600M112.5 599V600M113.5 599V600M114.5 599V600M115.5 599V600M116.5 599V600M117.5 599V600M117.5 599V600M118.5 599V600M119.5 599V600M120.5 599V600M121.5 599V600M122.5 599V600M123.5 599V600M123.5 599V600M124.5 599V600M125.5 599V600M126.5 598V599M127.5 599V600M128.5 599V600M129.5 599V600M129.5 599V600M130.5 599V600M131.5 598V599M132.5 598V599M133.5 598V599M134.5 598V599M135.5 598V599M136.5 598V599M136.5 598V599M137.5 599V600M138.5 598V599M139.5 599V600M140.5 599V600M141.5 599V600M142.5 599V600M142.5 599V600M143.5 599V600M144.5 599V600M145.5 598V599M146.5 598V599M147.5 598V599M148.5 598V599M148.5 598V599M149.5 598V599M150.5 598V599M151.5 598V599M152.5 598V599M153.5 598V599M154.5 598V599M154.5 598V599M155.5 598V599M156.5 598V599M157.5 598V599M158.5 598V599M159.5 598V599M160.5 598V599M160.5 598V599M161.5 597V598M162.5 597V598M163.5 596V597M164.5 596V597M165.5 596V597M166.5 596V597M167.5 596V597M168.5 595V596M169.5 595V596M170.5 595V596M171.5 595V596M172.5 595V596M173.5 595V596M174.5 595V596M175.5 594V595M176.5 593V594M177.5 591V593M178.5 591V592M179.5 591V592M180.5 590V591M181.5 590V592M182.5 590V591M183.5 590V591M184.5 591V592M185.5 591V594M186.5 593V595M187.5 594V596M188.5 593V594M188.5 593V594M189.5 593V594M190.5 593V594M191.5 593V594M192.5 593V594M193.5 593V594M194.5 593V594M195.5 593V594M196.5 593V594M197.5 593V594M198.5 593V594M199.5 593V594M200.5 593V594M201.5 593V594M202.5 593V594M203.5 593V594M204.5 593V594M205.5 593V594M206.5 593V594M207.5 593V594M208.5 593V594M208.5 593V594M209.5 593V594M210.5 593V594M211.5 593V594M212.5 592V593M213.5 593V594M214.5 593V594M215.5 593V594M216.5 593V594M217.5 593V594M218.5 593V594M219.5 593V594M220.5 594V595M221.5 593V594M222.5 593V594M223.5 594V595M224.5 594V595M225.5 594V598M226.5 596V597M226.5 595V596M227.5 595V596M228.5 595V596M229.5 595V596M230.5 595V596M231.5 595V596M232.5 595V596M233.5 595V596M234.5 595V596M235.5 595V596M236.5 595V596M237.5 595V596M238.5 595V596M239.5 595V596M240.5 595V596M241.5 595V596M242.5 595V596M243.5 595V596M243.5 595V596M244.5 595V596M245.5 595V596M246.5 595V596M247.5 595V596M248.5 595V596M249.5 595V596M250.5 595V596M251.5 595V596M252.5 595V596M253.5 595V596M254.5 595V596M255.5 594V595M256.5 594V595M257.5 594V595M258.5 594V595M259.5 594V595M260.5 594V595M260.5 594V595M261.5 594V595M262.5 594V595M263.5 594V595M264.5 594V595M265.5 594V595M266.5 594V595M267.5 594V595M268.5 594V595M269.5 594V595M270.5 594V595M271.5 594V595M272.5 594V595M273.5 594V595M274.5 594V595M275.5 594V595M276.5 594V595M277.5 594V595M278.5 594V595M278.5 594V595M279.5 594V595M280.5 594V595M281.5 594V595M282.5 594V595M283.5 594V595M284.5 594V595M285.5 594V595M286.5 594V595M287.5 594V595M288.5 594V595M289.5 594V595M290.5 594V595M291.5 594V595M292.5 594V595M293.5 594V595M294.5 594V595M295.5 594V595M295.5 594V595M296.5 594V595M297.5 593V594M298.5 594V595M299.5 594V595M300.5 593V594M301.5 593V594M302.5 593V594M303.5 593V594M304.5 593V594M305.5 592V593M306.5 593V594M307.5 592V593M308.5 592V593M309.5 592V593M310.5 592V593M311.5 592V593M312.5 592V593M313.5 592V593M313.5 592V593M314.5 592V593M315.5 592V593M316.5 592V593M317.5 592V593M318.5 592V593M319.5 591V592M320.5 591V592M321.5 591V592M322.5 591V592M323.5 591V592M324.5 591V592M325.5 591V592M326.5 591V592M327.5 590V591M328.5 591V592M329.5 590V591M330.5 590V591M330.5 590V591M331.5 590V591M332.5 591V592M333.5 591V592M334.5 591V592M335.5 591V592M336.5 591V592M337.5 591V592M338.5 591V592M339.5 590V591M340.5 590V591M341.5 590V591M342.5 590V591M343.5 590V591M344.5 590V591M345.5 590V591M346.5 590V591M347.5 590V591M347.5 590V591M348.5 590V591M349.5 590V591M350.5 589V590M351.5 590V591M352.5 589V590M353.5 590V591M354.5 590V591M355.5 590V591M356.5 590V591M357.5 589V590M358.5 588V589M359.5 587V588M360.5 586V587M361.5 586V587M362.5 586V587M363.5 586V587M364.5 585V586M365.5 584V586M365.5 584V585M366.5 585V586M367.5 585V586M368.5 583V586M369.5 583V585M370.5 583V584M371.5 580V583M372.5 579V587M373.5 583V588M374.5 586V587M375.5 586V587M376.5 586V589M377.5 587V588M378.5 586V591M379.5 589V590M380.5 588V590M380.5 588V590M381.5 589V590M382.5 589V590M383.5 588V589M384.5 588V589M385.5 588V589M386.5 586V588M387.5 587V588M388.5 587V588M389.5 586V588M390.5 585V587M391.5 585V586M392.5 585V586M393.5 582V587M394.5 584V586M394.5 585V586M395.5 585V586M396.5 584V586M397.5 584V585M398.5 584V585M399.5 584V585M400.5 584V585M401.5 583V584M402.5 583V584M403.5 583V585M404.5 584V585M405.5 583V585M406.5 584V585M407.5 584V585M408.5 584V585M408.5 584V585M409.5 584V585M410.5 584V585M411.5 583V584M412.5 583V584M413.5 581V584M414.5 581V584M415.5 580V583M416.5 580V581M417.5 579V581M418.5 579V580M419.5 578V580M420.5 577V579M421.5 576V578M422.5 575V579M422.5 578V580M423.5 578V581M424.5 576V579M425.5 576V578M426.5 576V577M427.5 577V578M428.5 575V577M429.5 576V580M430.5 578V580M431.5 578V579M432.5 575V584M433.5 579V581M434.5 579V580M435.5 578V579M436.5 576V579M436.5 578V579M437.5 578V580M438.5 579V583M439.5 581V586M440.5 583V586M441.5 582V585M442.5 580V582M443.5 581V583M444.5 582V584M445.5 583V586M446.5 584V587M447.5 583V585M448.5 582V583M449.5 582V584M450.5 582V583M450.5 582V585M451.5 581V583M452.5 581V582M453.5 580V582M454.5 580V582M455.5 580V581M456.5 580V581M457.5 580V581M458.5 580V582M459.5 579V582M460.5 578V580M461.5 577V580M462.5 577V579M463.5 577V578M464.5 578V579M465.5 578V580M466.5 577V579M466.5 575V577M467.5 577V578M468.5 576V578M469.5 576V579M470.5 576V578M471.5 577V578M472.5 576V577M473.5 576V578M474.5 576V577M475.5 576V577M476.5 575V577M477.5 573V577M478.5 573V575M479.5 572V574M480.5 573V576M481.5 575V576M482.5 574V576M483.5 572V575M483.5 571V574M484.5 570V571M485.5 570V571M486.5 568V572M487.5 568V570M488.5 567V569M489.5 564V568M490.5 564V567M491.5 566V568M492.5 567V569M493.5 566V568M494.5 564V567M495.5 564V567M496.5 561V565M497.5 560V563M498.5 558V561M499.5 556V559M500.5 554V559M500.5 552V556M501.5 548V553M502.5 546V551M503.5 538V553M504.5 546V554M505.5 549V562M506.5 555V560M507.5 554V557M508.5 552V555M509.5 550V557M510.5 548V550M511.5 549V550M512.5 545V550M513.5 543V546M514.5 539V544M515.5 534V543M516.5 532V536M517.5 530V536M518.5 528V534M518.5 528V539M519.5 530V534M520.5 532V546M521.5 539V542M522.5 540V542M523.5 542V555M524.5 546V548M525.5 544V547M526.5 540V544M527.5 539V542M528.5 538V543M529.5 536V545M530.5 541V546M531.5 541V544M532.5 540V544M533.5 543V547M534.5 545V549M535.5 544V547M535.5 542V547M536.5 545V546M537.5 545V547M538.5 543V545M539.5 542V545M540.5 544V546M541.5 543V546M542.5 542V545M543.5 542V546M544.5 543V546M545.5 546V549M546.5 548V555M547.5 548V554M548.5 546V550M549.5 547V550M550.5 546V550M550.5 549V553M551.5 550V556M552.5 556V562M553.5 553V561M554.5 549V555M555.5 540V552M556.5 533V543M557.5 535V538M558.5 533V542M559.5 538V543M560.5 541V542M561.5 540V544M562.5 537V544M563.5 535V539M564.5 532V536M564.5 531V535M565.5 533V537M566.5 533V536M567.5 532V535M568.5 532V538M569.5 530V535M570.5 525V532M571.5 524V527M572.5 520V528M573.5 521V523M574.5 521V524M575.5 517V523M576.5 519V524M577.5 516V525M578.5 509V518M578.5 502V511M579.5 502V510M580.5 501V504M581.5 495V506M582.5 497V500M583.5 494V501M584.5 496V499M585.5 496V506M586.5 502V503M587.5 503V504M588.5 503V507M589.5 500V506M590.5 499V503M591.5 495V504M592.5 494V497M593.5 492V497M593.5 488V497M594.5 489V495M595.5 484V492M596.5 476V490M597.5 480V498M598.5 487V502M599.5 488V505M600.5 492V502M601.5 489V497M602.5 489V491M603.5 490V497M604.5 495V501M605.5 500V505M606.5 499V505M607.5 498V504M607.5 500V518M608.5 507V528M609.5 510V532M610.5 509V516M611.5 502V513M612.5 501V508M613.5 503V508M614.5 504V510M615.5 507V514M616.5 512V516M617.5 510V516M618.5 501V517M619.5 502V506M620.5 497V505M621.5 497V506M621.5 494V500M622.5 494V500M623.5 494V498M624.5 495V501M625.5 492V501M626.5 493V496M627.5 491V499M628.5 490V497M629.5 496V498M630.5 494V501M631.5 490V495M632.5 488V493M633.5 485V489M634.5 478V486M635.5 466V482M636.5 462V471M637.5 455V467M638.5 457V463M638.5 459V464M639.5 459V464M640.5 463V477M641.5 458V467M642.5 451V462M643.5 449V454M644.5 448V454M645.5 450V460M646.5 450V468M647.5 456V471M648.5 452V464M649.5 453V461M650.5 459V461M651.5 446V466M652.5 445V457M653.5 439V452M654.5 431V443M655.5 423V442M656.5 417V431M656.5 419V426M657.5 413V421M658.5 413V430M659.5 418V428M660.5 403V425M661.5 407V426M662.5 416V438M663.5 436V447M664.5 440V466M665.5 436V459M666.5 436V444M667.5 417V445M668.5 397V420M669.5 394V409M670.5 396V418M671.5 396V422M672.5 385V401M673.5 390V398M673.5 390V398M674.5 383V394M675.5 372V390M676.5 374V383M677.5 359V381M678.5 364V375M679.5 346V370M680.5 311V376M681.5 348V353M682.5 343V351M683.5 324V344M684.5 313V326M685.5 309V320M686.5 299V311M687.5 247V306M688.5 170V261M689.5 166V246M690.5 183V272M690.5 196V269M691.5 154V220M692.5 149V191M693.5 153V201M694.5 167V196M695.5 140V183M696.5 99V155M697.5 95V130M698.5 105V137M699.5 109V172M700.5 141V201M701.5 157V230M702.5 196V318M703.5 199V261M704.5 230V288M705.5 230V269M706.5 188V251M707.5 178V230M708.5 204V259M708.5 214V246M709.5 227V298M710.5 238V285M711.5 246V275M712.5 209V272M713.5 206V230M714.5 206V238M715.5 162V222M716.5 158V185M717.5 159V199M718.5 183V246M719.5 206V238M720.5 220V259M721.5 217V275M722.5 239V273M723.5 227V248M724.5 233V269M725.5 235V259M725.5 254V348M726.5 301V369M727.5 309V321M728.5 296V324M729.5 267V311M730.5 275V322M731.5 298V348M732.5 311V351M733.5 309V335M734.5 303V324M735.5 305V340M736.5 306V327M737.5 294V314M738.5 301V322M739.5 315V356M740.5 339V359M741.5 341V390M742.5 372V413M742.5 361V398M743.5 365V404M744.5 391V437M745.5 403V455M746.5 386V423M747.5 383V414M748.5 381V407M749.5 372V397M750.5 386V406M751.5 375V399M752.5 376V391M753.5 361V387M754.5 347V362M755.5 341V349M756.5 316V343M757.5 316V346M758.5 315V338M759.5 313V322M759.5 309V338M760.5 336V355M761.5 344V357M762.5 340V360M763.5 354V360M764.5 336V359M765.5 329V340M766.5 330V342M767.5 317V340M768.5 317V332M769.5 308V320M770.5 307V321M771.5 309V313M772.5 306V331M773.5 325V355M774.5 344V370M775.5 365V373M776.5 363V383M776.5 356V383M777.5 360V378M778.5 370V372M779.5 365V399M780.5 387V399M781.5 392V396M782.5 393V404M783.5 393V419M784.5 385V397M785.5 375V393M786.5 374V377M787.5 375V387M788.5 381V390M789.5 383V390M790.5 382V390M791.5 383V400M792.5 396V409M793.5 397V409M793.5 396V425M794.5 419V440M795.5 421V433M796.5 420V434M797.5 425V433M798.5 413V431M799.5 414V433M800.5 427V437M801.5 436V439M802.5 432V437M803.5 421V434M804.5 425V429M805.5 423V433M806.5 425V434M807.5 399V433M808.5 395V410M808.5 387V401M809.5 387V396M810.5 391V404M811.5 398V407M812.5 393V407M813.5 381V402M814.5 375V386M815.5 374V380M816.5 376V385M817.5 361V383M818.5 351V367M819.5 355V382M820.5 374V382M821.5 370V379M822.5 370V381M822.5 369V377M823.5 365V371M824.5 362V372M825.5 359V369M826.5 367V372M827.5 360V378M828.5 351V367M829.5 353V361M830.5 356V369M831.5 356V372M832.5 363V367M833.5 359V376M834.5 369V392M835.5 389V392M836.5 382V394M836.5 382V392M837.5 383V396M838.5 385V397M839.5 386V405M840.5 394V405M841.5 392V400M842.5 386V398M843.5 384V395M844.5 386V408M845.5 399V415M846.5 410V415M847.5 412V419M848.5 412V422M849.5 419V425M850.5 423V425M850.5 418V424M851.5 414V429M852.5 408V420M853.5 411V420M854.5 410V424M855.5 404V419M856.5 406V409M857.5 406V411M858.5 406V411M859.5 403V416M860.5 403V413M861.5 402V418M862.5 412V433M863.5 426V442M864.5 437V444M864.5 439V446M865.5 442V452M866.5 442V445M867.5 439V444M868.5 436V440M869.5 431V438M870.5 432V439M871.5 432V441M872.5 440V446M873.5 442V457M874.5 447V453M875.5 446V459M876.5 449V455M877.5 448V451M878.5 448V455M878.5 452V459M879.5 445V458M880.5 444V448M881.5 440V450M882.5 435V443M883.5 433V439M884.5 435V438M885.5 435V438M886.5 429V440M887.5 434V437M888.5 433V435M889.5 433V441M890.5 433V451M891.5 443V451M892.5 446V452M893.5 439V449M894.5 440V445M895.5 440V449M895.5 431V444M896.5 415V439M897.5 418V423M898.5 418V426M899.5 418V419M900.5 412V420M901.5 410V418M902.5 399V422M903.5 390V405M904.5 389V400M905.5 389V404M906.5 393V403M907.5 395V396M908.5 394V399M909.5 394V413M910.5 400V412M911.5 407V415M912.5 408V421M913.5 409V425M913.5 419V432M914.5 422V431M915.5 425V431M916.5 426V439M917.5 433V450M918.5 444V449M919.5 447V450M920.5 445V453M921.5 444V448M922.5 437V447M923.5 446V456M924.5 443V451M925.5 444V449M926.5 434V446M927.5 436V442M928.5 434V448M929.5 439V446M930.5 445V450M930.5 442V448M931.5 441V447M932.5 437V451M933.5 431V440M934.5 430V434M935.5 429V434M936.5 423V432M937.5 425V427M938.5 423V430M939.5 427V432M940.5 416V429M941.5 420V425M942.5 417V426M943.5 414V421M944.5 416V436M945.5 430V443M946.5 439V450M947.5 438V452M947.5 444V449M948.5 443V456M949.5 445V448M950.5 443V448M951.5 436V446M952.5 440V445M953.5 437V448M954.5 445V448M955.5 443V448M956.5 444V450M957.5 442V454M958.5 434V443M959.5 431V435M960.5 429V438M961.5 432V441M962.5 433V441M963.5 437V445M964.5 435V443M965.5 430V439M965.5 435V437M966.5 436V438M967.5 437V438M968.5 436V438M969.5 437V440M970.5 438V440M971.5 439V441M972.5 436V440M973.5 436V438M974.5 436V438M975.5 434V436M976.5 435V437M977.5 437V439M978.5 437V447M979.5 446V449M980.5 447V450M980.5 445V448M981.5 432V448M982.5 436V438M983.5 437V440M984.5 438V441M985.5 440V443M986.5 440V443M987.5 441V444M988.5 442V444M989.5 442V444M990.5 443V446M991.5 441V444M992.5 442V444M993.5 442V445M994.5 444V445M994.5 444V447M995.5 445V447M996.5 444V447M997.5 444V446M998.5 443V445M999.5 443V444M1000.5 443V445M1001.5 442V444M1002.5 438V442M1003.5 438V440M1004.5 439V440M1005.5 440V443M1006.5 442V443M1007.5 442V444M1008.5 443V446M1008.5 443V447M1009.5 444V470M1010.5 457V464M1011.5 454V468M1012.5 457V468M1013.5 459V467M1014.5 464V488M1015.5 482V504M1016.5 490V496M1017.5 489V495M1018.5 492V501M1019.5 496V511M1020.5 502V519M1021.5 504V513M1022.5 510V515M1023.5 499V514M1023.5 498V500M1024.5 497V508M1025.5 501V508M1026.5 500V510M1027.5 505V514M1028.5 508V516M1029.5 511V515M1030.5 511V521M1031.5 519V523M1032.5 519V522M1033.5 515V521M1034.5 516V522M1035.5 520V525M1036.5 519V524M1037.5 520V527M1037.5 525V528M1038.5 525V528M1039.5 526V529M1040.5 516V530M1041.5 514V522M1042.5 511V515M1043.5 503V516M1044.5 502V510M1045.5 505V513M1046.5 504V510M1047.5 499V507M1048.5 501V514M1049.5 509V513M1050.5 510V518M1051.5 507V516M1051.5 506V515M1052.5 511V515M1053.5 509V514M1054.5 509V515M1055.5 508V512M1056.5 508V511M1057.5 509V511M1058.5 509V512M1059.5 504V511M1060.5 503V506M1061.5 504V506M1062.5 505V506M1063.5 504V516M1064.5 514V516M1065.5 515V517M1066.5 516V519M1066.5 514V520M1067.5 514V517M1068.5 513V516M1069.5 515V516M1070.5 515V516M1071.5 513V516M1072.5 514V519M1073.5 516V518M1074.5 516V519M1075.5 517V520M1076.5 516V518M1077.5 517V518M1078.5 516V519M1079.5 518V519M1080.5 518V521M1081.5 520V522M1082.5 519V520M1082.5 519V523M1083.5 520V522M1084.5 519V522M1085.5 518V521M1086.5 520V521M1087.5 520V521M1088.5 519V522M1089.5 522V523M1090.5 514V522M1091.5 515V517M1092.5 514V517M1093.5 514V517M1094.5 516V517"/>
<path stroke="#53b987" stroke-width="1" fill="none" d="M2.5 600V601M3.5 600V601M4.5 600V601M5.5 599V600M6.5 599V600M7.5 599V600M8.5 599V600M8.5 599V600M9.5 598V599M10.5 598V599M17.5 599V600M18.5 598V599M19.5 598V599M23.5 599V600M24.5 599V600M26.5 599V600M28.5 599V600M29.5 599V600M30.5 599V600M31.5 598V599M32.5 598V599M33.5 598V599M37.5 599V600M38.5 599V600M40.5 601V602M41.5 600V601M42.5 600V601M43.5 600V601M44.5 599V600M46.5 599V600M56.5 600V601M57.5 600V601M57.5 600V601M58.5 600V601M61.5 600V601M65.5 600V601M66.5 600V601M67.5 600V601M68.5 600V601M69.5 600V601M70.5 600V601M71.5 599V600M72.5 599V600M73.5 599V600M74.5 599V600M74.5 599V600M77.5 599V600M78.5 599V600M79.5 599V600M88.5 600V601M89.5 600V601M90.5 599V600M91.5 599V600M92.5 599V600M92.5 599V600M93.5 599V600M97.5 599V600M98.5 599V600M100.5 599V600M102.5 599V600M104.5 599V600M107.5 599V600M108.5 599V600M109.5 599V600M114.5 599V600M117.5 599V600M117.5 599V600M119.5 599V600M120.5 599V600M121.5 599V600M122.5 599V600M123.5 599V600M123.5 599V600M124.5 599V600M125.5 599V600M126.5 599V600M129.5 599V600M129.5 599V600M131.5 599V600M132.5 598V599M133.5 598V599M139.5 599V600M141.5 599V600M142.5 599V600M143.5 599V600M144.5 599V600M145.5 598V599M147.5 598V599M148.5 598V599M148.5 598V599M151.5 598V599M154.5 599V600M155.5 599V600M156.5 599V600M157.5 598V599M158.5 598V599M159.5 598V599M160.5 598V599M160.5 598V599M161.5 598V599M162.5 597V598M163.5 596V597M164.5 596V597M166.5 596V597M167.5 596V597M168.5 595V596M169.5 595V596M170.5 595V596M171.5 595V596M174.5 595V596M175.5 594V595M176.5 593V594M177.5 592V593M178.5 592V593M179.5 591V592M180.5 590V591M182.5 590V591M184.5 591V592M187.5 594V595M188.5 593V594M188.5 593V594M191.5 593V594M192.5 593V594M193.5 593V594M195.5 593V594M198.5 593V594M200.5 593V594M205.5 593V594M206.5 593V594M207.5 593V594M210.5 593V594M211.5 593V594M217.5 593V594M220.5 594V595M221.5 593V594M226.5 596V597M227.5 595V596M228.5 595V596M230.5 595V596M237.5 595V596M238.5 595V596M239.5 595V596M242.5 595V596M243.5 595V596M243.5 595V596M244.5 595V596M246.5 595V596M247.5 595V596M250.5 595V596M252.5 595V596M253.5 595V596M254.5 595V596M255.5 595V596M257.5 594V595M258.5 594V595M259.5 594V595M260.5 594V595M261.5 594V595M265.5 595V596M266.5 594V595M267.5 594V595M268.5 594V595M271.5 594V595M272.5 594V595M274.5 594V595M277.5 595V596M278.5 594V595M279.5 594V595M281.5 594V595M282.5 594V595M284.5 594V595M285.5 594V595M286.5 594V595M287.5 594V595M288.5 594V595M293.5 594V595M294.5 594V595M296.5 594V595M299.5 594V595M300.5 593V594M301.5 593V594M302.5 593V594M303.5 593V594M304.5 593V594M305.5 593V594M307.5 592V593M308.5 592V593M309.5 592V593M310.5 592V593M311.5 592V593M313.5 592V593M315.5 592V593M317.5 592V593M318.5 592V593M319.5 592V593M322.5 592V593M324.5 592V593M325.5 591V592M326.5 591V592M327.5 591V592M329.5 590V591M330.5 590V591M335.5 591V592M336.5 591V592M338.5 591V592M339.5 590V591M340.5 590V591M341.5 590V591M344.5 590V591M345.5 590V591M346.5 590V591M347.5 590V591M349.5 590V591M350.5 590V591M351.5 590V591M354.5 590V591M355.5 590V591M356.5 590V591M357.5 589V590M358.5 588V589M359.5 587V588M360.5 586V587M362.5 586V587M363.5 586V587M364.5 585V586M365.5 585V586M367.5 585V586M368.5 584V585M369.5 584V585M370.5 583V584M371.5 581V583M374.5 586V587M375.5 586V587M379.5 589V590M380.5 589V590M381.5 589V590M383.5 588V589M385.5 588V589M386.5 587V588M387.5 587V588M389.5 587V588M390.5 586V587M391.5 585V586M392.5 585V586M393.5 584V585M394.5 585V586M396.5 585V586M397.5 585V586M399.5 584V585M401.5 584V585M405.5 584V585M407.5 584V585M408.5 584V585M409.5 584V585M410.5 584V585M411.5 583V584M412.5 583V584M413.5 583V584M414.5 582V583M415.5 580V582M417.5 579V580M418.5 579V580M419.5 578V579M420.5 578V579M421.5 577V578M423.5 579V580M424.5 577V579M425.5 577V578M427.5 577V578M428.5 576V577M433.5 579V581M434.5 579V580M435.5 578V579M440.5 584V585M441.5 582V584M442.5 581V582M446.5 584V586M447.5 583V584M449.5 583V584M450.5 583V584M451.5 582V583M452.5 582V583M453.5 581V582M454.5 580V581M457.5 580V581M458.5 580V581M459.5 580V581M461.5 579V580M462.5 578V579M465.5 578V579M466.5 577V578M466.5 577V578M468.5 578V579M469.5 576V578M471.5 577V578M472.5 577V578M474.5 576V577M476.5 576V577M477.5 574V576M478.5 573V574M481.5 575V576M483.5 572V575M483.5 571V572M484.5 571V572M485.5 570V571M486.5 570V571M487.5 568V570M488.5 568V569M489.5 564V568M493.5 566V568M494.5 565V566M495.5 565V566M496.5 563V565M497.5 561V563M498.5 559V561M499.5 557V559M500.5 555V557M500.5 553V555M501.5 549V553M502.5 547V549M506.5 555V557M507.5 555V556M508.5 553V555M509.5 550V553M510.5 549V550M512.5 546V549M513.5 543V546M514.5 539V543M515.5 535V539M516.5 535V536M517.5 532V535M518.5 532V533M525.5 544V547M526.5 541V544M527.5 540V541M528.5 538V540M530.5 541V543M535.5 545V546M536.5 545V546M538.5 543V545M541.5 544V545M542.5 542V544M547.5 549V550M549.5 548V549M553.5 555V560M554.5 549V555M555.5 541V549M556.5 535V541M562.5 537V543M563.5 535V537M564.5 533V535M564.5 533V534M567.5 533V535M569.5 530V534M570.5 526V530M571.5 525V526M572.5 522V525M574.5 521V522M576.5 521V522M577.5 517V521M578.5 509V517M578.5 504V509M579.5 504V505M580.5 501V504M581.5 499V501M582.5 498V499M583.5 498V499M584.5 497V498M587.5 503V504M589.5 501V504M591.5 496V503M592.5 496V497M593.5 495V496M593.5 490V495M594.5 490V491M595.5 487V490M596.5 481V487M600.5 493V499M601.5 490V493M606.5 502V503M607.5 501V502M609.5 513V526M610.5 511V513M611.5 504V511M612.5 503V504M617.5 513V516M618.5 503V513M620.5 502V504M621.5 500V502M621.5 496V500M622.5 495V496M625.5 496V499M626.5 494V496M630.5 494V498M631.5 491V494M632.5 488V491M633.5 485V488M634.5 480V485M635.5 468V480M636.5 462V468M637.5 457V462M641.5 461V464M642.5 453V461M643.5 452V453M647.5 461V466M648.5 456V461M650.5 460V461M651.5 449V460M653.5 441V450M654.5 433V441M655.5 426V433M656.5 423V426M656.5 420V423M657.5 416V420M659.5 424V427M660.5 415V424M665.5 439V456M666.5 437V439M667.5 419V437M668.5 405V419M670.5 406V408M671.5 399V406M672.5 394V399M673.5 391V394M674.5 390V394M675.5 375V390M677.5 369V381M678.5 367V369M679.5 351V367M681.5 349V351M682.5 344V349M683.5 325V344M684.5 317V325M685.5 310V317M686.5 303V310M687.5 250V303M688.5 170V250M690.5 215V221M691.5 171V215M692.5 164V171M694.5 167V183M695.5 149V167M696.5 103V149M703.5 233V252M706.5 197V248M708.5 230V233M710.5 246V282M712.5 223V259M713.5 213V223M714.5 213V214M715.5 166V213M716.5 160V166M720.5 220V231M722.5 248V261M723.5 238V248M727.5 317V319M728.5 309V317M729.5 276V309M732.5 326V327M733.5 311V326M736.5 311V319M737.5 304V311M740.5 344V347M742.5 369V379M745.5 408V429M747.5 394V411M748.5 383V394M751.5 377V399M753.5 362V387M754.5 347V362M755.5 343V347M756.5 320V343M758.5 318V338M759.5 316V318M761.5 344V352M764.5 340V359M765.5 332V340M767.5 324V340M768.5 317V324M769.5 310V317M776.5 360V380M778.5 371V372M780.5 394V395M781.5 394V395M783.5 395V404M784.5 385V395M785.5 377V385M786.5 377V378M789.5 387V388M793.5 402V406M795.5 425V431M797.5 426V432M798.5 416V426M802.5 433V437M803.5 426V433M804.5 425V426M806.5 428V431M807.5 403V428M808.5 401V403M808.5 393V401M809.5 392V393M812.5 394V403M813.5 381V394M814.5 378V381M815.5 377V378M817.5 367V380M818.5 357V367M820.5 377V378M821.5 376V377M822.5 375V376M822.5 371V375M823.5 368V371M824.5 366V368M826.5 367V368M827.5 364V367M828.5 353V364M832.5 363V366M836.5 382V391M840.5 396V399M841.5 395V396M842.5 387V395M850.5 419V424M851.5 415V419M852.5 414V415M854.5 415V418M855.5 408V415M856.5 407V408M858.5 407V410M865.5 443V445M866.5 442V443M867.5 439V442M868.5 437V439M869.5 435V437M870.5 434V435M874.5 450V452M875.5 449V450M876.5 449V450M879.5 448V456M880.5 446V448M881.5 442V446M882.5 437V442M883.5 437V438M885.5 437V438M886.5 436V437M887.5 434V436M892.5 446V448M893.5 440V446M895.5 434V444M896.5 418V434M898.5 418V422M899.5 418V419M900.5 415V418M902.5 403V416M903.5 390V403M905.5 396V397M906.5 396V397M908.5 395V396M915.5 428V430M920.5 447V449M921.5 445V447M924.5 446V448M925.5 445V446M926.5 438V445M930.5 443V447M932.5 440V444M933.5 434V440M934.5 433V434M935.5 430V433M936.5 425V430M940.5 422V427M942.5 419V424M943.5 417V419M947.5 445V448M950.5 444V446M951.5 440V444M955.5 446V447M957.5 443V450M958.5 435V443M959.5 433V435M961.5 435V437M964.5 436V442M965.5 435V436M967.5 437V438M971.5 440V441M972.5 437V440M973.5 436V437M974.5 436V437M980.5 447V448M980.5 446V447M981.5 437V446M988.5 443V444M990.5 443V444M991.5 442V443M995.5 445V446M996.5 445V446M997.5 444V445M998.5 443V444M1000.5 443V444M1001.5 442V443M1002.5 439V442M1008.5 444V445M1010.5 461V463M1012.5 461V465M1016.5 490V495M1020.5 507V511M1022.5 511V512M1023.5 499V511M1023.5 499V500M1025.5 501V506M1032.5 520V522M1033.5 517V520M1036.5 520V522M1037.5 527V528M1038.5 527V528M1039.5 526V527M1040.5 519V526M1041.5 515V519M1042.5 514V515M1043.5 504V514M1045.5 506V510M1047.5 505V507M1049.5 511V512M1051.5 509V516M1052.5 511V513M1054.5 510V514M1055.5 509V510M1059.5 505V511M1062.5 505V506M1066.5 514V519M1070.5 516V517M1071.5 514V516M1073.5 517V518M1075.5 517V518M1076.5 517V518M1081.5 520V521M1082.5 520V521M1084.5 520V521M1087.5 520V521M1090.5 515V522M1091.5 515V516M1092.5 515V516"/>
<path stroke="#eb4d5c" stroke-width="1" fill="none" d="M11.5 598V599M12.5 598V599M13.5 598V599M14.5 598V599M15.5 599V600M16.5 599V600M20.5 598V599M21.5 598V599M22.5 599V600M23.5 599V600M25.5 599V600M27.5 599V600M34.5 598V599M35.5 598V599M36.5 599V600M39.5 599V600M40.5 599V601M45.5 599V600M47.5 599V600M48.5 600V601M49.5 600V601M50.5 600V601M51.5 600V601M52.5 600V601M53.5 600V601M54.5 600V601M55.5 600V601M59.5 600V601M60.5 600V601M62.5 600V601M63.5 600V601M64.5 600V601M75.5 599V600M76.5 599V600M80.5 599V600M81.5 599V600M82.5 599V600M83.5 599V600M84.5 599V600M85.5 600V601M86.5 600V601M87.5 600V601M94.5 599V600M95.5 599V600M96.5 599V600M99.5 599V600M101.5 599V600M103.5 599V600M105.5 599V600M106.5 599V600M109.5 599V600M110.5 599V600M111.5 599V600M112.5 599V600M113.5 599V600M115.5 599V600M116.5 599V600M118.5 599V600M127.5 599V600M128.5 599V600M130.5 599V600M134.5 598V599M135.5 598V599M136.5 598V599M136.5 598V599M137.5 599V600M138.5 599V600M140.5 599V600M142.5 599V600M146.5 598V599M149.5 598V599M150.5 599V600M152.5 598V599M153.5 599V600M154.5 599V600M165.5 596V597M172.5 595V596M173.5 595V596M181.5 590V591M183.5 590V591M185.5 591V593M186.5 593V595M189.5 593V594M190.5 593V594M194.5 593V594M196.5 593V594M197.5 593V594M199.5 593V594M201.5 593V594M202.5 593V594M203.5 593V594M204.5 593V594M208.5 593V594M208.5 593V594M209.5 593V594M212.5 593V594M213.5 593V594M214.5 593V594M215.5 593V594M216.5 593V594M218.5 593V594M219.5 594V595M222.5 593V594M223.5 594V595M224.5 594V595M225.5 595V596M226.5 596V597M229.5 595V596M231.5 595V596M232.5 595V596M233.5 595V596M234.5 595V596M235.5 595V596M236.5 595V596M240.5 595V596M241.5 595V596M245.5 595V596M248.5 595V596M249.5 595V596M251.5 595V596M256.5 595V596M260.5 594V595M262.5 594V595M263.5 594V595M264.5 594V595M269.5 594V595M270.5 594V595M273.5 594V595M275.5 594V595M276.5 594V595M278.5 594V595M280.5 594V595M283.5 594V595M289.5 594V595M290.5 594V595M291.5 594V595M292.5 594V595M295.5 594V595M295.5 594V595M297.5 594V595M298.5 594V595M306.5 593V594M312.5 592V593M313.5 592V593M314.5 592V593M316.5 592V593M320.5 592V593M321.5 592V593M323.5 592V593M328.5 591V592M330.5 590V591M331.5 590V591M332.5 591V592M333.5 591V592M334.5 591V592M337.5 591V592M342.5 590V591M343.5 590V591M347.5 590V591M348.5 590V591M352.5 590V591M353.5 590V591M361.5 586V587M365.5 585V586M366.5 585V586M372.5 581V584M373.5 584V587M376.5 586V587M377.5 587V588M378.5 588V590M380.5 589V590M382.5 589V590M384.5 588V589M388.5 587V588M394.5 584V585M395.5 585V586M398.5 585V586M400.5 584V585M402.5 584V585M403.5 584V585M404.5 584V585M406.5 584V585M408.5 584V585M416.5 580V581M422.5 577V579M422.5 579V580M426.5 577V578M429.5 576V579M430.5 579V580M431.5 579V580M432.5 579V581M436.5 578V579M436.5 578V579M437.5 579V580M438.5 580V583M439.5 583V585M443.5 581V583M444.5 583V584M445.5 584V586M448.5 583V584M450.5 583V584M455.5 580V581M456.5 581V582M460.5 580V581M463.5 578V579M464.5 578V579M467.5 577V578M470.5 576V578M473.5 577V578M475.5 576V577M479.5 573V574M480.5 574V575M482.5 575V576M490.5 564V566M491.5 566V567M492.5 567V568M503.5 547V550M504.5 550V553M505.5 553V557M511.5 549V550M518.5 532V533M519.5 532V533M520.5 533V541M521.5 541V542M522.5 541V542M523.5 542V547M524.5 547V548M529.5 538V543M531.5 541V543M532.5 543V544M533.5 544V545M534.5 545V546M535.5 545V546M537.5 545V546M539.5 543V544M540.5 544V545M543.5 542V544M544.5 544V546M545.5 546V548M546.5 548V550M548.5 549V550M550.5 548V549M550.5 549V552M551.5 552V556M552.5 556V560M557.5 535V536M558.5 535V538M559.5 538V541M560.5 541V542M561.5 542V543M565.5 533V534M566.5 534V535M568.5 533V534M573.5 522V523M575.5 521V522M585.5 497V503M586.5 503V504M588.5 503V504M590.5 501V503M597.5 481V487M598.5 487V495M599.5 495V499M602.5 490V491M603.5 491V497M604.5 497V501M605.5 501V503M607.5 501V515M608.5 515V526M613.5 503V508M614.5 508V509M615.5 508V513M616.5 513V516M619.5 503V504M623.5 495V496M624.5 496V499M627.5 494V495M628.5 494V497M629.5 497V498M638.5 457V461M638.5 461V462M639.5 462V463M640.5 463V464M644.5 452V453M645.5 453V456M646.5 456V466M649.5 456V460M652.5 449V450M658.5 416V427M661.5 415V423M662.5 423V438M663.5 438V444M664.5 444V456M669.5 405V408M673.5 391V394M676.5 375V381M680.5 351V352M689.5 170V189M690.5 189V221M693.5 164V183M697.5 103V110M698.5 110V113M699.5 113V151M700.5 151V179M701.5 179V201M702.5 201V252M704.5 233V247M705.5 247V248M707.5 197V206M708.5 206V233M709.5 230V282M711.5 246V259M717.5 160V185M718.5 185V218M719.5 218V231M721.5 220V261M724.5 238V254M725.5 254V255M725.5 254V313M726.5 313V319M730.5 276V309M731.5 309V327M734.5 311V318M735.5 318V319M738.5 304V317M739.5 317V347M741.5 344V373M742.5 373V379M743.5 369V395M744.5 395V429M746.5 408V411M749.5 383V386M750.5 386V399M752.5 377V387M757.5 320V338M759.5 316V336M760.5 336V352M762.5 344V356M763.5 356V359M766.5 332V340M770.5 310V311M771.5 310V311M772.5 311V330M773.5 330V351M774.5 351V366M775.5 366V368M776.5 368V380M777.5 360V371M779.5 371V395M782.5 394V404M787.5 377V382M788.5 382V388M790.5 387V389M791.5 389V397M792.5 397V406M793.5 402V424M794.5 424V431M796.5 425V432M799.5 416V432M800.5 432V437M801.5 437V438M805.5 425V431M810.5 392V399M811.5 399V403M816.5 377V380M819.5 357V378M825.5 366V368M829.5 353V359M830.5 359V365M831.5 365V366M833.5 363V374M834.5 374V390M835.5 390V391M836.5 382V384M837.5 384V388M838.5 388V396M839.5 396V399M843.5 387V394M844.5 394V401M845.5 401V414M846.5 414V415M847.5 414V415M848.5 415V420M849.5 420V424M850.5 424V425M853.5 414V418M857.5 407V410M859.5 407V409M860.5 409V410M861.5 409V414M862.5 414V433M863.5 433V437M864.5 437V443M864.5 443V445M871.5 434V440M872.5 440V446M873.5 446V452M877.5 449V451M878.5 451V453M878.5 453V456M884.5 437V438M888.5 434V435M889.5 435V439M890.5 439V445M891.5 445V448M894.5 440V442M895.5 442V444M897.5 418V422M901.5 415V416M904.5 390V396M907.5 396V397M909.5 395V405M910.5 405V408M911.5 408V409M912.5 408V413M913.5 413V421M913.5 421V426M914.5 426V430M916.5 428V435M917.5 435V446M918.5 446V449M919.5 449V450M922.5 445V446M923.5 446V448M927.5 438V441M928.5 441V443M929.5 443V446M930.5 446V447M931.5 443V444M937.5 425V426M938.5 426V427M939.5 427V428M941.5 422V424M944.5 417V435M945.5 435V440M946.5 440V444M947.5 444V448M948.5 445V446M949.5 446V447M952.5 440V441M953.5 440V445M954.5 445V447M956.5 446V450M960.5 433V437M962.5 435V439M963.5 439V442M965.5 435V437M966.5 437V438M968.5 437V438M969.5 438V439M970.5 438V440M975.5 436V437M976.5 436V437M977.5 437V439M978.5 439V447M979.5 447V448M982.5 437V438M983.5 438V439M984.5 439V441M985.5 441V442M986.5 441V442M987.5 442V443M989.5 443V444M992.5 442V444M993.5 444V445M994.5 444V445M994.5 445V446M999.5 443V444M1003.5 439V440M1004.5 439V440M1005.5 440V442M1006.5 442V443M1007.5 443V444M1008.5 444V445M1009.5 444V463M1011.5 461V465M1013.5 461V464M1014.5 464V485M1015.5 485V495M1017.5 490V494M1018.5 494V498M1019.5 498V511M1021.5 507V512M1024.5 499V506M1026.5 501V506M1027.5 506V510M1028.5 510V512M1029.5 512V513M1030.5 513V520M1031.5 520V522M1034.5 517V521M1035.5 521V522M1037.5 520V527M1044.5 504V510M1046.5 506V507M1048.5 505V512M1050.5 511V516M1051.5 509V513M1053.5 511V514M1056.5 509V510M1057.5 510V511M1058.5 511V512M1060.5 505V506M1061.5 505V506M1063.5 505V515M1064.5 515V516M1065.5 516V517M1066.5 516V519M1067.5 514V515M1068.5 515V516M1069.5 516V517M1072.5 514V518M1074.5 517V518M1077.5 517V518M1078.5 517V518M1079.5 518V519M1080.5 518V521M1082.5 520V521M1083.5 521V522M1085.5 520V521M1086.5 520V521M1088.5 520V522M1089.5 522V523M1093.5 515V516M1094.5 516V517"/>
<path stroke="#868686" stroke-width="1" fill="none" d="M1165.5 24V683M2 656.5H1228M1166 610.5H1170M1166 557.5H1170M1166 505.5H1170M1166 452.5H1170M1166 400.5H1170M1166 348.5H1170M1166 295.5H1170M1166 243.5H1170M1166 190.5H1170M1166 138.5H1170M1166 85.5H1170M1166 33.5H1170M27.5 657V660M113.5 657V660M195.5 657V660M282.5 657V660M369.5 657V660M453.5 657V660M539.5 657V660M625.5 657V660M712.5 657V660M797.5 657V660M882.5 657V660M969.5 657V660M1055.5 657V660M1140.5 657V660"/>
<g font-family="'Liberation Sans',Arial,sans-serif" font-weight="bold" font-size="11px" fill="#d6d8de" shape-rendering="geometricPrecision">
<text x="1174" y="615.0">0.00</text>
<text x="1174" y="562.0">2000.00</text>
<text x="1174" y="510.0">4000.00</text>
<text x="1174" y="457.0">6000.00</text>
<text x="1174" y="405.0">8000.00</text>
<text x="1174" y="353.0">10000.00</text>
<text x="1174" y="300.0">12000.00</text>
<text x="1174" y="248.0">14000.00</text>
<text x="1174" y="195.0">16000.00</text>
<text x="1174" y="143.0">18000.00</text>
<text x="1174" y="90.0">20000.00</text>
<text x="1174" y="38.0">22000.00</text>
<text x="27" y="675" text-anchor="middle">2016</text>
<text x="113" y="675" text-anchor="middle">Apr</text>
<text x="195" y="675" text-anchor="middle">Jul</text>
<text x="282" y="675" text-anchor="middle">Oct</text>
<text x="369" y="675" text-anchor="middle">2017</text>
<text x="453" y="675" text-anchor="middle">Apr</text>
<text x="539" y="675" text-anchor="middle">Jul</text>
<text x="625" y="675" text-anchor="middle">Oct</text>
<text x="712" y="675" text-anchor="middle">2018</text>
<text x="797" y="675" text-anchor="middle">Apr</text>
<text x="882" y="675" text-anchor="middle">Jul</text>
<text x="969" y="675" text-anchor="middle">Oct</text>
<text x="1055" y="675" text-anchor="middle">2019</text>
<text x="1140" y="675" text-anchor="middle">Apr</text>
<rect x="1165" y="508" width="56" height="17" fill="#eb4d5c" shape-rendering="crispEdges"/>
<path stroke="#fff" stroke-width="1" d="M1166 516.5H1170"/>
<text x="1174" y="519.5" fill="#fff">3565.87</text>
</g>
</svg>
<span class="hb" id="t1" style="left:1px">BITSTAMP:BTCUSD, 1D</span>
<span class="h" id="t2" style="left:140px">3565.87</span>
<svg style="position:absolute;left:188px;top:4px" width="13" height="13" viewBox="0 0 13 13" shape-rendering="crispEdges"><path d="M1 1h11v1h-1v2h-1v2h-1v2h-1v2h-1v2h-1v-2h-1v-2h-1v-2h-1v-2h-1v-2h-1z" fill="#aa0000"/></svg>
<span class="h" id="t3" style="left:203px">&#8722;22.83 (&#8722;0.64%)</span>
<span class="hb" id="t4" style="right:922.9px">O:</span><span class="h r" id="t5" style="left:313.5px">3588.99</span>
<span class="hb" id="t6" style="right:859px">H:</span><span class="h r" id="t7" style="left:377.5px">3591.29</span>
<span class="hb" id="t8" style="right:799px">L:</span><span class="h r" id="t9" style="left:438px">3548.28</span>
<span class="hb" id="t10" style="right:736.5px">C:</span><span class="h r" id="t11" style="left:500.5px">3565.87</span>
<span class="lg" id="l1" style="top:32.5px;font-weight:bold">Bitcoin / U.S. Dollar, 1D, BITSTAMP</span>
<span class="lg" id="l2" style="top:49.5px">Vol (20)</span>
<span class="ft" id="f1" style="left:1px;color:#000;font-size:12.85px">Created with</span>
<svg style="position:absolute;left:76px;top:693px" width="26" height="18" viewBox="0 0 26 18"><path d="M3.7 15.900C1.700 15.900 .9 13.600 .9 11.400C.9 8.800 2.800 7.100 5.700 7C5.900 3.700 8.600 1.300 11.900 1.300c2.100 0 3.700.9 4.700 2.100 1.900.2 3.600 1.300 4.400 2.900l.4 2c2 .6 3.300 2.300 3.300 4.300 0 1.900-1.500 3.300-3.300 3.300Z" fill="#58c1e9"/><path d="M.8 14.200L9.500 6.700L15.100 14.500L23.800 4.900" fill="none" stroke="#fff" stroke-width="1.500" stroke-linejoin="miter"/></svg>
<span class="ft" id="f2" style="left:100.9px;color:#3ab2e4">TradingView</span>
</body></html>
